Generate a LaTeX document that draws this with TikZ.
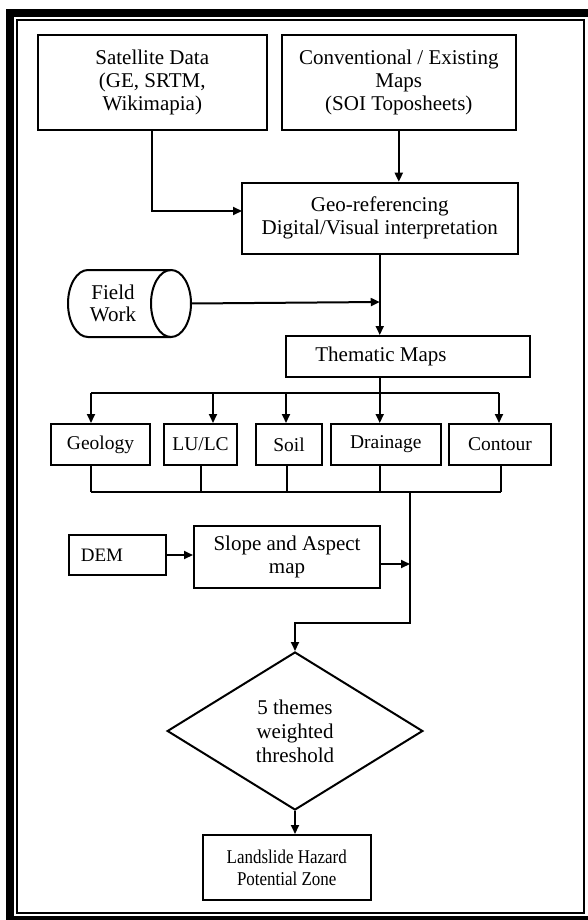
\documentclass[tikz,border=0pt]{standalone}
\usepackage{fontspec}
\setmainfont{Liberation Serif}
\newfontfamily\condserif[FakeStretch=0.87]{Liberation Serif}
\usetikzlibrary{arrows.meta,shapes.geometric,calc}
\begin{document}
\begin{tikzpicture}[x=1pt,y=-1pt,
  box/.style={draw,line width=2pt,inner sep=0pt,align=center,
    font=\fontsize{21}{23}\selectfont},
  sbox/.style={box,minimum height=41pt,font=\fontsize{19.5}{22}\selectfont},
  txt/.style={inner sep=0pt,align=center,font=\fontsize{21}{23}\selectfont},
  line/.style={line width=2pt},
  arr/.style={line width=2pt,-{Triangle[length=9pt,width=8pt]}}]
\useasboundingbox (0,0) rectangle (588,920);
\fill[white] (0,0) rectangle (588,920);
% frame
\fill (6,9) rectangle (588,17);
\fill (6,9) rectangle (14,920);
\fill (6,916) rectangle (588,920);
\draw[line width=2pt] (17,20) rectangle (584,913);

% nodes
\node[box,minimum width=229.5pt,minimum height=95pt] (sat) at (152.25,82.5)
  {Satellite Data\\(GE, SRTM,\\Wikimapia)};
\node[box,minimum width=233.6pt,minimum height=95pt] (conv) at (398.8,82.5)
  {Conventional / Existing\\Maps\\(SOI Toposheets)};
\node[box,minimum width=275.5pt,minimum height=71.3pt] (georef) at (379.75,218.35)
  {Geo-referencing\\Digital/Visual interpretation};
\node[inner sep=0pt,minimum width=123pt,minimum height=67pt] (field) at (129.5,303.5) {};
\node[txt,font=\fontsize{21}{22}\selectfont] (fieldtxt) at (113,303) {Field\\Work};
\node[box,minimum width=243.5pt,minimum height=41pt] (them) at (407.75,356.5) {};
\node[txt] (themtxt) at (381,356.5) {Thematic Maps};
\node[sbox,minimum width=99pt] (geol) at (100.5,444.5) {Geology};
\node[sbox,minimum width=73pt] (lulc) at (200.5,444.5) {LU/LC};
\node[sbox,minimum width=66pt] (soil) at (289,444.5) {Soil};
\node[sbox,minimum width=109.6pt] (drain) at (385.8,444.5) {Drainage};
\node[sbox,minimum width=102pt] (cont) at (500,444.5) {Contour};
\node[box,minimum width=97.4pt,minimum height=40pt,text width=73pt,align=left,
  inner xsep=12pt,font=\fontsize{19}{22}\selectfont] (dem) at (117.3,555) {DEM};
\node[box,minimum width=186pt,minimum height=62pt] (slope) at (287,557)
  {Slope and Aspect\\map};
\node[draw,diamond,line width=2pt,inner sep=0pt,shape aspect=1.6,
  minimum width=255.6pt,minimum height=158pt,align=center,
  font=\fontsize{21}{24}\selectfont] (dia) at (295,731)
  {5 themes\\weighted\\threshold};
\node[box,minimum width=167.5pt,minimum height=65pt,
  font=\condserif\fontsize{19.5}{22}\selectfont] (land) at (286.75,867.5)
  {Landslide Hazard\\Potential Zone};

% cylinder outline
\draw[line] (171,270) -- (88,270) .. controls (76.95,270) and (68,285) .. (68,303.5)
  .. controls (68,322) and (76.95,337) .. (88,337) -- (171,337);
\draw[line] (171,303.5) ellipse [x radius=20pt, y radius=33.5pt];

% coordinates
\coordinate (satin) at (242,211);
\coordinate (fj) at (379.75,302);
\coordinate (busT) at (379.75,393);
\coordinate (b1) at (91,393);
\coordinate (b2) at (213,393);
\coordinate (b3) at (286,393);
\coordinate (b4) at (379.75,393);
\coordinate (b5) at (499,393);
\coordinate (c1) at (91,492);
\coordinate (c2) at (201,492);
\coordinate (c3) at (287,492);
\coordinate (c4) at (379.75,492);
\coordinate (c5) at (500.5,492);
\coordinate (cm) at (410,492);
\coordinate (sj) at (410,564);
\coordinate (bend) at (410,623);

% connectors
\draw[arr] (sat.south) |- (satin);
\draw[arr] (conv.south) -- (conv.south |- georef.north);
\draw[arr] (georef.south) -- (georef.south |- them.north);
\draw[arr] (field.east) -- (fj);
\draw[line] (them.south -| busT) -- (busT);
\draw[line] (b1) -- (b5);
\draw[arr] (b1) -- (b1 |- geol.north);
\draw[arr] (b2) -- (b2 |- lulc.north);
\draw[arr] (b3) -- (b3 |- soil.north);
\draw[arr] (b4) -- (b4 |- drain.north);
\draw[arr] (b5) -- (b5 |- cont.north);
\draw[line] (c1 |- geol.south) -- (c1);
\draw[line] (c2 |- lulc.south) -- (c2);
\draw[line] (c3 |- soil.south) -- (c3);
\draw[line] (c4 |- drain.south) -- (c4);
\draw[line] (c5 |- cont.south) -- (c5);
\draw[line] (c1) -- (c5);
\draw[arr] (cm) -- (bend) -| (dia.north);
\draw[arr] (dem.east) -- (dem.east -| slope.west);
\draw[arr] (slope.east |- sj) -- (sj);
\draw[arr] (dia.south) -- (dia.south |- land.north);
\end{tikzpicture}
\end{document}
